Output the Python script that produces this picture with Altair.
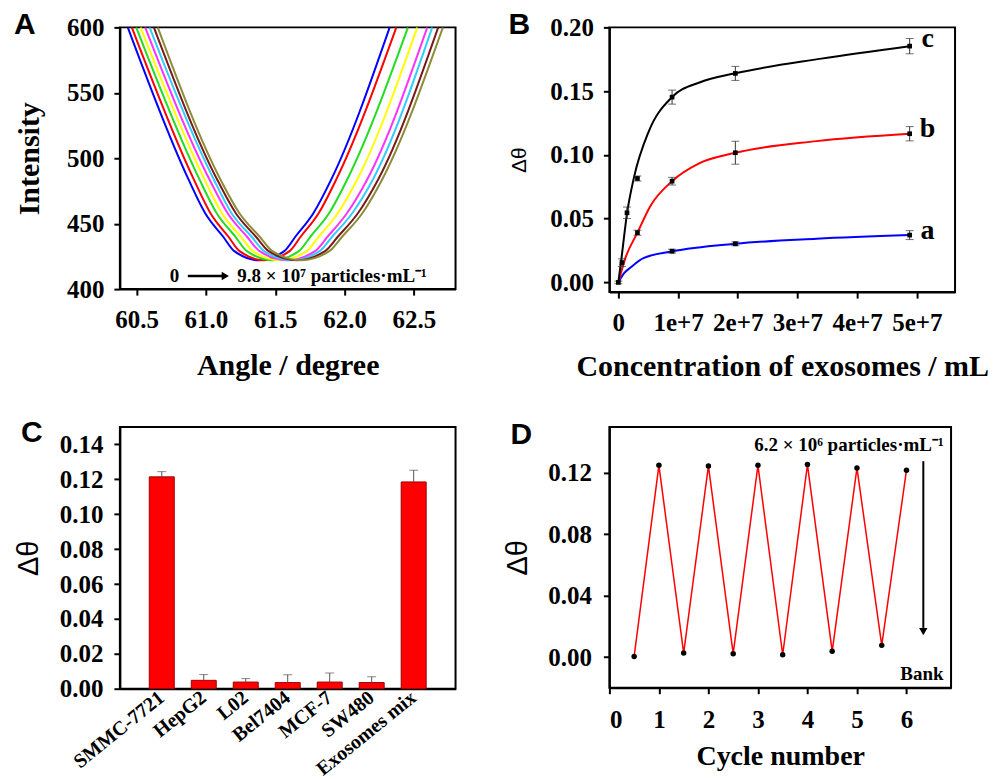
import altair as alt
import pandas as pd

# ---------------- Panel A: SPR dip curves ----------------
A_intensity = [600, 484, 458, 440, 429, 422, 429, 440, 458, 484, 600]
A_curve_names = ["c1", "c2", "c3", "c4", "c5", "c6", "c7", "c8"]
A_colors = ["#0000FF", "#FF0000", "#22DD22", "#FFFF00", "#FF33FF", "#33CCFF", "#7A1A1A", "#8C8C3A"]
A_c1 = [60.437, 60.874, 60.995, 61.125, 61.205, 61.385, 61.565, 61.645, 61.775, 61.905, 62.325]
A_c2 = [60.466, 60.912, 61.033, 61.163, 61.243, 61.423, 61.603, 61.683, 61.813, 61.941, 62.373]
A_c3 = [60.498, 60.953, 61.078, 61.213, 61.296, 61.483, 61.670, 61.753, 61.888, 62.020, 62.457]
A_c4 = [60.529, 60.989, 61.115, 61.253, 61.340, 61.533, 61.726, 61.813, 61.951, 62.092, 62.524]
A_c5 = [60.562, 61.025, 61.157, 61.297, 61.387, 61.587, 61.787, 61.877, 62.017, 62.164, 62.596]
A_c6 = [60.594, 61.056, 61.185, 61.330, 61.420, 61.620, 61.820, 61.910, 62.055, 62.205, 62.632]
A_c7 = [60.625, 61.080, 61.216, 61.361, 61.453, 61.656, 61.859, 61.951, 62.096, 62.243, 62.675]
A_c8 = [60.653, 61.104, 61.242, 61.388, 61.480, 61.685, 61.890, 61.982, 62.128, 62.272, 62.709]
A_angles = [A_c1, A_c2, A_c3, A_c4, A_c5, A_c6, A_c7, A_c8]

# ---------------- Panel B: response vs concentration ----------------
B_conc_c = [0, 6e5, 1.45e6, 3.2e6, 9.0e6, 1.96e7, 4.88e7]
B_c = [0, 0.0155, 0.0546, 0.0815, 0.1453, 0.1639, 0.1853]
B_c_err = [0.001, 0.003, 0.0045, 0.002, 0.0055, 0.0055, 0.006]
B_conc_b = [3.2e6, 9.0e6, 1.96e7, 4.88e7]
B_b = [0.039, 0.0794, 0.1017, 0.1166]
B_b_err = [0.002, 0.003, 0.009, 0.0056]
B_conc_a = [9.0e6, 1.96e7, 4.88e7]
B_a = [0.0245, 0.0303, 0.0371]
B_a_err = [0.0015, 0.0015, 0.0035]
# fitted curves
B_fit_c_x = [0, 5e5, 1.45e6, 2.6e6, 5.1e6, 9.0e6, 1.37e7, 1.96e7, 3.4e7, 4.88e7]
B_fit_c_y = [0, 0.018, 0.054, 0.082, 0.1185, 0.1453, 0.157, 0.164, 0.1755, 0.1853]
B_fit_b_x = [0, 1.2e6, 3.2e6, 5.35e6, 9.0e6, 1.37e7, 1.96e7, 3.32e7, 4.88e7]
B_fit_b_y = [0, 0.0194, 0.039, 0.0598, 0.0794, 0.0938, 0.1017, 0.1108, 0.1166]
B_fit_a_x = [0, 1.0e6, 2.0e6, 4.2e6, 9.0e6, 1.96e7, 3.32e7, 4.88e7]
B_fit_a_y = [0, 0.0075, 0.0115, 0.019, 0.0243, 0.0303, 0.0342, 0.0371]
B_series = ["a", "b", "c"]
B_colors = ["#0000FF", "#FF0000", "#000000"]
B_label_y = [0.0402, 0.120, 0.191]

# ---------------- Panel C: selectivity bars ----------------
C_cells = ["SMMC-7721", "HepG2", "L02", "Bel7404", "MCF-7", "SW480", "Exosomes mix"]
C_vals = [0.1214, 0.0048, 0.0038, 0.0035, 0.0038, 0.0035, 0.1185]
C_err = [0.003, 0.0033, 0.002, 0.0045, 0.0052, 0.0033, 0.0067]

# ---------------- Panel D: regeneration cycles ----------------
D_cycle = [0.5, 1, 1.5, 2, 2.5, 3, 3.5, 4, 4.5, 5, 5.5, 6]
D_vals = [0.0004, 0.125, 0.0026, 0.1246, 0.0022, 0.125, 0.0015, 0.1255, 0.0037, 0.1233, 0.0076, 0.1218]

SERIF = "Liberation Serif"
SANS = "Liberation Sans"


def panel_label(letter, x, y):
    return alt.Chart(pd.DataFrame({"t": [letter]})).mark_text(
        font=SANS, fontWeight="bold", fontSize=30, align="left", baseline="alphabetic", color="black"
    ).encode(text="t:N", x=alt.value(x), y=alt.value(y))


# ===== Panel A =====
rowsA = []
for name, angs in zip(A_curve_names, A_angles):
    for a, i in zip(angs, A_intensity):
        rowsA.append({"curve": name, "angle": a, "intensity": i})
dfA = pd.DataFrame(rowsA)

xA = alt.X("angle:Q", scale=alt.Scale(domain=[60.38, 62.8], zero=False, nice=False),
           axis=alt.Axis(values=[60.5, 61.0, 61.5, 62.0, 62.5], format=".1f", title="Angle / degree",
                         labelPadding=12, titlePadding=18, tickCount=10))
yA = alt.Y("intensity:Q", scale=alt.Scale(domain=[400, 600], zero=False, nice=False),
           axis=alt.Axis(values=[400, 450, 500, 550, 600], title="Intensity", labelPadding=10, titlePadding=22,
                         tickCount=10))

linesA = alt.Chart(dfA).mark_line(strokeWidth=2, interpolate="monotone", clip=True).encode(
    x=xA, y=yA,
    color=alt.Color("curve:N", scale=alt.Scale(domain=A_curve_names, range=A_colors), legend=None),
)
annA0 = alt.Chart(pd.DataFrame({"angle": [60.773], "intensity": [410], "t": ["0"]})).mark_text(
    font=SERIF, fontWeight="bold", fontSize=19, align="center", baseline="middle", color="black"
).encode(x="angle:Q", y="intensity:Q", text="t:N")
annA1 = alt.Chart(pd.DataFrame({"angle": [61.227], "intensity": [410], "t": ["9.8 × 10⁷ particles·mL⁻¹"]})).mark_text(
    font=SERIF, fontWeight="bold", fontSize=19, align="left", baseline="middle", color="black"
).encode(x="angle:Q", y="intensity:Q", text="t:N")
arrowA = alt.Chart(pd.DataFrame({"angle": [60.87], "angle2": [61.12], "intensity": [410]})).mark_rule(
    strokeWidth=2.5, color="black").encode(x="angle:Q", x2="angle2:Q", y="intensity:Q")
headA = alt.Chart(pd.DataFrame({"angle": [61.14], "intensity": [410]})).mark_point(
    shape="triangle-right", filled=True, size=70, color="black", opacity=1).encode(x="angle:Q", y="intensity:Q")

A = alt.layer(linesA, annA0, annA1, arrowA, headA, panel_label("A", -106, 7)).properties(width=336, height=262)

# ===== Panel B =====
def b_points(xs, ys, es):
    return pd.DataFrame({"conc": xs, "dtheta": ys,
                         "lo": [y - e for y, e in zip(ys, es)], "hi": [y + e for y, e in zip(ys, es)]})


dfBp = pd.concat([b_points(B_conc_c, B_c, B_c_err), b_points(B_conc_b, B_b, B_b_err),
                  b_points(B_conc_a, B_a, B_a_err)], ignore_index=True)

xB = alt.X("conc:Q", scale=alt.Scale(domain=[-1.5e6, 5.64e7], nice=False, zero=False),
           axis=alt.Axis(values=[0, 1e7, 2e7, 3e7, 4e7, 5e7], tickCount=10,
                         labelExpr="datum.value == 0 ? '0' : format(datum.value / 1e7, 'd') + 'e+7'",
                         title="Concentration of exosomes / mL", labelPadding=12, titlePadding=16))
yB = alt.Y("dtheta:Q", scale=alt.Scale(domain=[-0.0076, 0.2], nice=False, zero=False),
           axis=alt.Axis(values=[0, 0.05, 0.10, 0.15, 0.20], format=".2f", title="Δθ", tickCount=10,
                         titleFont=SANS, titleFontWeight="normal", titleFontSize=21,
                         labelPadding=10, titlePadding=20))

fit_layers = []
for xs, ys, col in [(B_fit_a_x, B_fit_a_y, B_colors[0]), (B_fit_b_x, B_fit_b_y, B_colors[1]),
                    (B_fit_c_x, B_fit_c_y, B_colors[2])]:
    fit_layers.append(alt.Chart(pd.DataFrame({"conc": xs, "dtheta": ys})).mark_line(
        strokeWidth=2, interpolate="monotone", color=col).encode(x=xB, y=yB))
errB = alt.Chart(dfBp).mark_rule(color="#333333", strokeWidth=1).encode(x="conc:Q", y="lo:Q", y2="hi:Q")
capLoB = alt.Chart(dfBp).mark_tick(orient="horizontal", size=8, thickness=1, color="#333333").encode(x="conc:Q", y="lo:Q")
capHiB = alt.Chart(dfBp).mark_tick(orient="horizontal", size=8, thickness=1, color="#333333").encode(x="conc:Q", y="hi:Q")
ptsB = alt.Chart(dfBp).mark_point(shape="square", filled=True, size=22, color="black", opacity=1).encode(
    x="conc:Q", y="dtheta:Q")
labB = alt.Chart(pd.DataFrame({"conc": [5.18e7] * 3, "dtheta": B_label_y, "t": B_series})).mark_text(
    font=SERIF, fontWeight="bold", fontSize=28, align="center", baseline="middle", color="black"
).encode(x="conc:Q", y="dtheta:Q", text="t:N")

B = alt.layer(*fit_layers, errB, capLoB, capHiB, ptsB, labB, panel_label("B", -101, 7)).properties(width=346, height=265)

# ===== Panel C =====
dfC = pd.DataFrame({"cell": C_cells, "val": C_vals, "top": [v + e for v, e in zip(C_vals, C_err)]})
xC = alt.X("cell:N", sort=C_cells, scale=alt.Scale(paddingInner=0.405, paddingOuter=0.7),
           axis=alt.Axis(title=None, ticks=False, labelAngle=321, labelAlign="right", labelBaseline="middle",
                         labelFontSize=20, labelPadding=6, labelOverlap=False, labelLimit=300))
yC = alt.Y("val:Q", scale=alt.Scale(domain=[0, 0.15], nice=False),
           axis=alt.Axis(values=[0, 0.02, 0.04, 0.06, 0.08, 0.10, 0.12, 0.14], format=".2f", title="Δθ",
                         tickCount=20,
                         titleFont=SANS, titleFontWeight="normal", titleFontSize=29,
                         labelPadding=11, titlePadding=16, labelOverlap=False))
barsC = alt.Chart(dfC).mark_bar(color="#FF0000", stroke="#990000", strokeWidth=1).encode(x=xC, y=yC)
errC = alt.Chart(dfC).mark_rule(color="#555555", strokeWidth=1).encode(x=alt.X("cell:N", sort=C_cells), y="val:Q", y2="top:Q")
capC = alt.Chart(dfC).mark_tick(orient="horizontal", size=9, thickness=1, color="#555555").encode(
    x=alt.X("cell:N", sort=C_cells), y=alt.Y("top:Q"))
C = alt.layer(barsC, errC, capC, panel_label("C", -99, 15)).properties(width=336, height=262)

# ===== Panel D =====
dfD = pd.DataFrame({"cycle": D_cycle, "val": D_vals})
xD = alt.X("cycle:Q", scale=alt.Scale(domain=[0, 6.9], nice=False, zero=False),
           axis=alt.Axis(values=[0, 1, 2, 3, 4, 5, 6], format="d", title="Cycle number", tickCount=10,
                         labelPadding=14, titlePadding=10, titleFontSize=28))
yD = alt.Y("val:Q", scale=alt.Scale(domain=[-0.02, 0.15], nice=False, zero=False),
           axis=alt.Axis(values=[0, 0.04, 0.08, 0.12], format=".2f", title="Δθ", tickCount=10,
                         titleFont=SANS, titleFontWeight="normal", titleFontSize=29,
                         labelPadding=12, titlePadding=15))
lineD = alt.Chart(dfD).mark_line(color="#FF0000", strokeWidth=1.5).encode(x=xD, y=yD)
ptsD = alt.Chart(dfD).mark_circle(color="black", size=30, opacity=1).encode(x="cycle:Q", y="val:Q")
annD1 = alt.Chart(pd.DataFrame({"cycle": [6.75], "val": [0.1383], "t": ["6.2 × 10⁶ particles·mL⁻¹"]})).mark_text(
    font=SERIF, fontWeight="bold", fontSize=19, align="right", baseline="middle", color="black"
).encode(x="cycle:Q", y="val:Q", text="t:N")
annD2 = alt.Chart(pd.DataFrame({"cycle": [6.75], "val": [-0.0109], "t": ["Bank"]})).mark_text(
    font=SERIF, fontWeight="bold", fontSize=19, align="right", baseline="middle", color="black"
).encode(x="cycle:Q", y="val:Q", text="t:N")
arrowD = alt.Chart(pd.DataFrame({"cycle": [6.34], "val": [0.1277], "val2": [0.019]})).mark_rule(
    strokeWidth=2, color="black").encode(x="cycle:Q", y="val:Q", y2="val2:Q")
headD = alt.Chart(pd.DataFrame({"cycle": [6.34], "val": [0.0165]})).mark_point(
    shape="triangle-down", filled=True, size=70, color="black", opacity=1).encode(x="cycle:Q", y="val:Q")
D = alt.layer(lineD, ptsD, annD1, annD2, arrowD, headD, panel_label("D", -99, 17)).properties(width=342, height=261)

chart = alt.concat(A, B, C, D, columns=2, spacing={"row": 135, "column": 154}, bounds="flush").properties(
    padding={"left": 5, "top": 1, "right": 5, "bottom": 5}
).configure_view(
    stroke="black", strokeWidth=2
).configure_axis(
    grid=False, labelOverlap=False,
    domainColor="black", domainWidth=2,
    tickColor="black", tickWidth=2, tickSize=6,
    labelFont=SERIF, labelFontWeight="bold", labelFontSize=25, labelColor="black",
    titleFont=SERIF, titleFontWeight="bold", titleFontSize=30, titleColor="black",
)

chart.save("out.html", embed_options={"renderer": "svg", "actions": False})
